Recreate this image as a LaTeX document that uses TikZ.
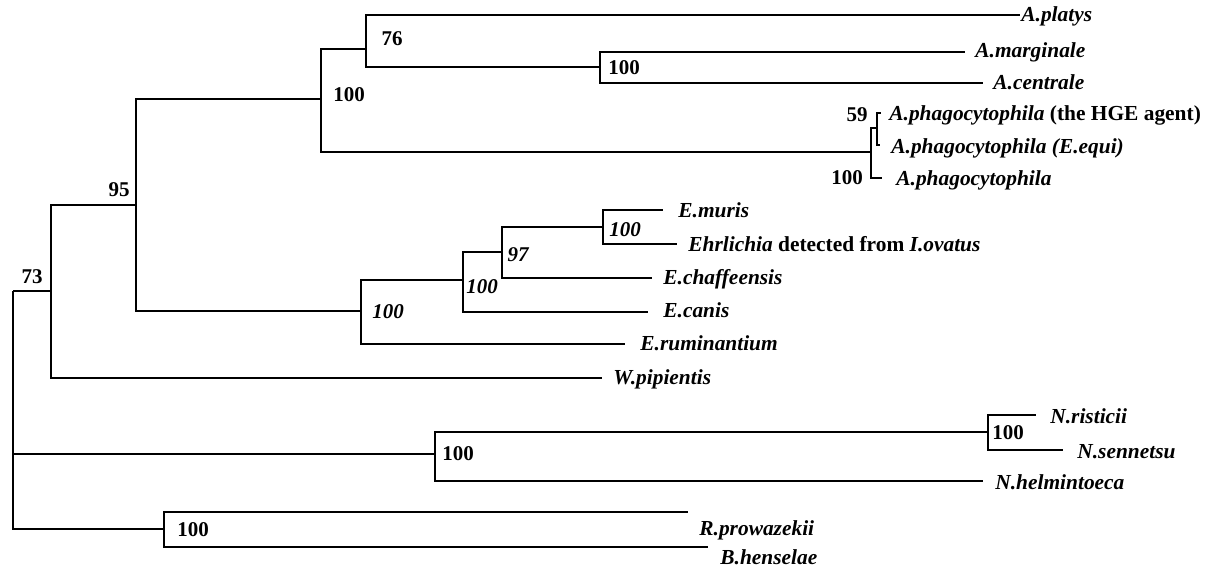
\documentclass[tikz,border=0pt]{standalone}
\usepackage{fontspec}
\setmainfont{Liberation Serif}
\usepackage{tikz}
\usetikzlibrary{positioning}

\begin{document}
\begin{tikzpicture}[x=0.5pt, y=-0.5pt,
    branch/.style={line width=0.8pt},
    taxon/.style={anchor=west, inner sep=0pt, text height=7pt, text depth=2pt,
        font=\fontsize{10.7}{13}\selectfont\bfseries\itshape},
    boot/.style={inner sep=0pt, font=\fontsize{10.5}{12}\selectfont\bfseries},
    bootit/.style={inner sep=0pt, font=\fontsize{10.5}{12}\selectfont\bfseries\itshape}]
    \useasboundingbox (0,0) rectangle (1210,568);

    % inner nodes of the tree
    \foreach \n/\x/\y in {root/13/291, n73/51/291, n95/136/205, nAna/321/99,
        n76/366/49, nMarg/600/67, nPhag/871/152, n59/877/128, nEhr/361/311,
        nEhrB/463/280, n97/502/252, nMur/603/227, nNeo/435/454, nRis/988/432,
        nRic/164/529}
        \coordinate (\n) at (\x,\y);

    % ends of the leaf branches
    \foreach \n/\x/\y in {platys/1020/15, marg/965/52, cent/983/83, hge/881/113,
        equi/880/145, phag/882/178, muris/663/210, iova/677/244, chaf/652/278,
        canis/648/312, rum/625/344, wpip/602/378, ris/1036/415, sen/1063/450,
        helm/983/481, prow/688/512, hens/708/547}
        \coordinate (\n) at (\x,\y);

    % branches
    \foreach \p/\c in {root/n73, root/nNeo, root/nRic, n73/n95, n73/wpip,
        n95/nAna, n95/nEhr, nAna/n76, nAna/nPhag, n76/platys, n76/nMarg,
        nMarg/marg, nMarg/cent, nPhag/n59, nPhag/phag, n59/hge, n59/equi,
        nEhr/nEhrB, nEhr/rum, nEhrB/n97, nEhrB/canis, n97/nMur, n97/chaf,
        nMur/muris, nMur/iova, nNeo/nRis, nNeo/helm, nRis/ris, nRis/sen,
        nRic/prow, nRic/hens}
        \draw[branch] (\p) |- (\c);

    % taxa
    \node[taxon] (tPlatys) at (1021,16) {A.platys};
    \node[taxon] (tMarg) at (975,52) {A.marginale};
    \node[taxon] (tCent) at (993,84) {A.centrale};
    \node[taxon] (tHge) at (889,115) {A.phagocytophila \textup{(the HGE agent)}};
    \node[taxon] (tEqui) at (891,148) {A.phagocytophila (E.equi)};
    \node[taxon] (tPhag) at (896,180) {A.phagocytophila};
    \node[taxon] (tMuris) at (678,212) {E.muris};
    \node[taxon] (tIova) at (688,246) {Ehrlichia \textup{detected from} I.ovatus};
    \node[taxon] (tChaf) at (663,279) {E.chaffeensis};
    \node[taxon] (tCanis) at (663,312) {E.canis};
    \node[taxon] (tRum) at (640,345) {E.ruminantium};
    \node[taxon] (tWpip) at (613,379) {W.pipientis};
    \node[taxon] (tRis) at (1050,418) {N.risticii};
    \node[taxon] (tSen) at (1077,453) {N.sennetsu};
    \node[taxon] (tHelm) at (995,484) {N.helmintoeca};
    \node[taxon] (tProw) at (699,530) {R.prowazekii};
    \node[taxon] (tHens) at (720,559) {B.henselae};

    % bootstrap values
    \node[boot] (b73) at (32,277) {73};
    \node[boot] (b95) at (119,190) {95};
    \node[boot] (bAna) at (349,95) {100};
    \node[boot] (b76) at (392,39) {76};
    \node[boot] (bMarg) at (624,68) {100};
    \node[boot] (b59) at (857,115) {59};
    \node[boot] (bPhag) at (847,178) {100};
    \node[bootit] (bEhr) at (388,312) {100};
    \node[bootit] (bEhrB) at (482,287) {100};
    \node[bootit] (b97) at (518,255) {97};
    \node[bootit] (bMur) at (625,230) {100};
    \node[boot] (bNeo) at (458,454) {100};
    \node[boot] (bRis) at (1008,433) {100};
    \node[boot] (bRic) at (193,530) {100};
\end{tikzpicture}
\end{document}
